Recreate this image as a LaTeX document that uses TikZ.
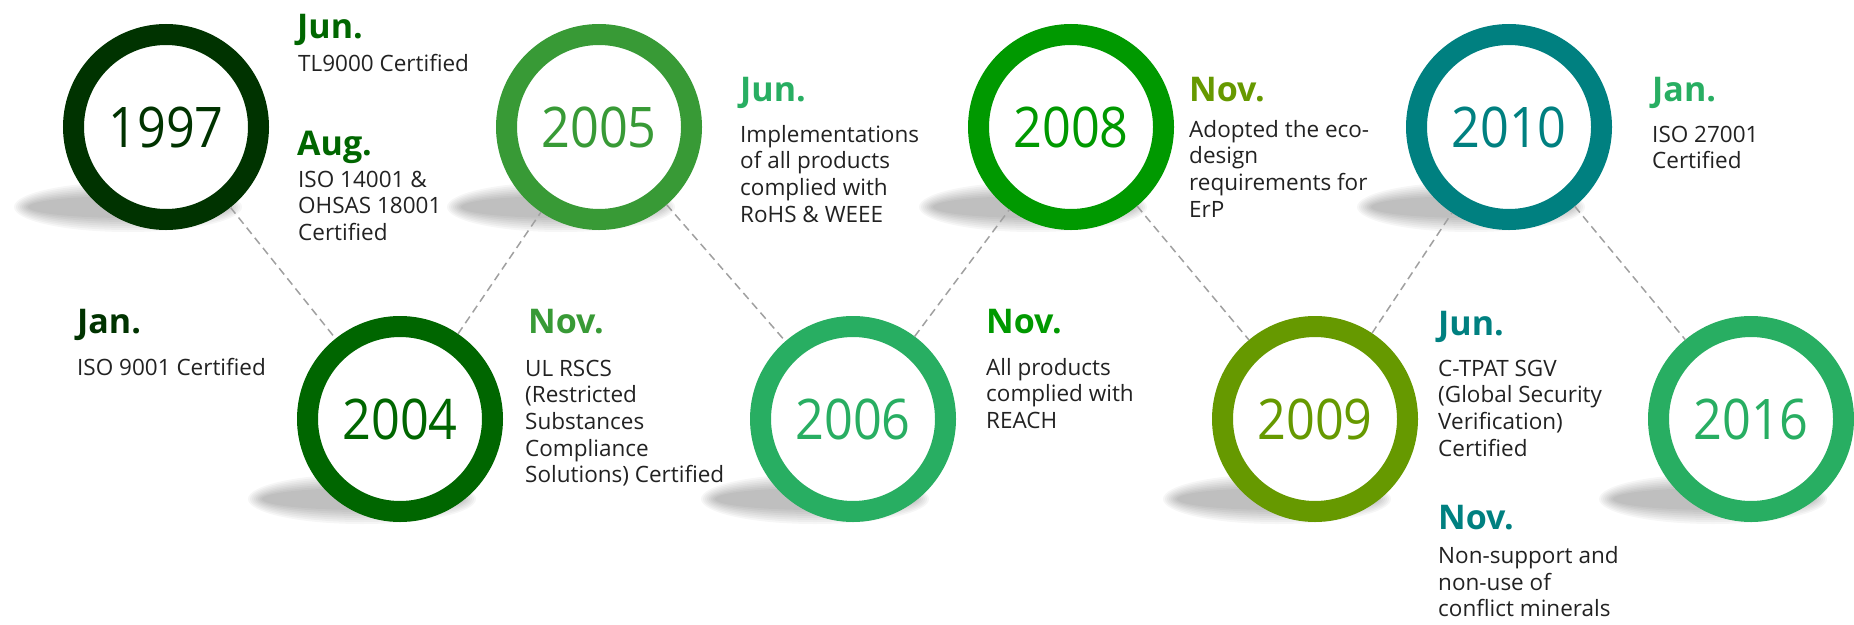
\documentclass[tikz,border=0pt]{standalone}
\usepackage{fontspec}
\setmainfont{Open Sans}
\newfontfamily\yearfont[FakeStretch=0.9]{Open Sans}
\usetikzlibrary{calc}

\definecolor{c97}{HTML}{003300}
\definecolor{c04}{HTML}{006600}
\definecolor{c05}{HTML}{389A36}
\definecolor{c06}{HTML}{28AE62}
\definecolor{c08}{HTML}{009900}
\definecolor{c09}{HTML}{669900}
\definecolor{c10}{HTML}{008080}
\definecolor{c16}{HTML}{28AE62}
\definecolor{bodytext}{HTML}{222222}
\definecolor{dashgray}{HTML}{A0A0A0}

\newcommand\stack[1]{\vtop{\baselineskip=26.7pt\lineskiplimit=-50pt\lineskip=0pt #1}}

\tikzset{
  ring/.style={circle, minimum size=185pt, inner sep=0pt, line width=21pt, draw=#1, fill=white, text=#1, font=\yearfont\fontsize{56}{60}\selectfont},
  link/.style={draw=dashgray, line width=1.5pt, dash pattern=on 8pt off 5pt},
  month/.style={anchor=base west, inner sep=0pt, text=#1, font=\bfseries\fontsize{34}{40}\selectfont},
  body/.style={anchor=base west, inner sep=0pt, text=bodytext, font=\fontsize{22.5}{26.7}\selectfont},
  blob/.style={fill=black, fill opacity=0.034, draw=none}
}

\begin{document}
\begin{tikzpicture}[x=1pt, y=-1pt]
\useasboundingbox (0,0) rectangle (1854,624);

% centres
\coordinate (p97) at (166,127);
\coordinate (p04) at (400,419);
\coordinate (p05) at (599,127);
\coordinate (p06) at (853,419);
\coordinate (p08) at (1071,127);
\coordinate (p09) at (1315,419);
\coordinate (p10) at (1509,127);
\coordinate (p16) at (1751,419);

% soft shadows
\foreach \p in {p97,p04,p05,p06,p08,p09,p10,p16}{
  \foreach \k in {0,...,7}{
    \path[blob] ($(\p)+(-38,80)$) ellipse [x radius={100pt+2*\k pt}, y radius={11pt+2*\k pt}];
  }
}

% rings
\node[ring=c97] (n97) at (p97) {1997};
\node[ring=c04] (n04) at (p04) {2004};
\node[ring=c05] (n05) at (p05) {2005};
\node[ring=c06] (n06) at (p06) {2006};
\node[ring=c08] (n08) at (p08) {2008};
\node[ring=c09] (n09) at (p09) {2009};
\node[ring=c10] (n10) at (p10) {2010};
\node[ring=c16] (n16) at (p16) {2016};

% connectors
\draw[link] (n97) -- (n04);
\draw[link] (n04) -- (n05);
\draw[link] (n05) -- (n06);
\draw[link] (n06) -- (n08);
\draw[link] (n08) -- (n09);
\draw[link] (n09) -- (n10);
\draw[link] (n10) -- (n16);

% texts
\node[month=c04] (mA1) at (297,38) {Jun.};
\node[body] (tA1) at (298,71) {TL9000 Certified};
\node[month=c04] (mA2) at (297,155) {Aug.};
\node[body] (tA2) at (298,187) {\stack{\hbox{ISO 14001 \&}\hbox{OHSAS 18001}\hbox{Certified}}};

\node[month=c97] (mB1) at (77,333) {Jan.};
\node[body] (tB1) at (77,375) {ISO 9001 Certified};

\node[month=c05] (mC1) at (528,333) {Nov.};
\node[body] (tC1) at (525,376) {\stack{\hbox{UL RSCS}\hbox{(Restricted}\hbox{Substances}\hbox{Compliance}\hbox{Solutions) Certified}}};

\node[month=c06] (mD1) at (740,101) {Jun.};
\node[body] (tD1) at (740,142) {\stack{\hbox{Implementations}\hbox{of all products}\hbox{complied with}\hbox{RoHS \& WEEE}}};

\node[month=c08] (mE1) at (986,333) {Nov.};
\node[body] (tE1) at (986,375) {\stack{\hbox{All products}\hbox{complied with}\hbox{REACH}}};

\node[month=c09] (mF1) at (1189,101) {Nov.};
\node[body] (tF1) at (1189,137) {\stack{\hbox{Adopted the eco-}\hbox{design}\hbox{requirements for}\hbox{ErP}}};

\node[month=c16] (mG1) at (1652,101) {Jan.};
\node[body] (tG1) at (1652,142) {\stack{\hbox{ISO 27001}\hbox{Certified}}};

\node[month=c10] (mH1) at (1438,335) {Jun.};
\node[body] (tH1) at (1438,376) {\stack{\hbox{C-TPAT SGV}\hbox{(Global Security}\hbox{Verification)}\hbox{Certified}}};
\node[month=c10] (mH2) at (1438,529) {Nov.};
\node[body] (tH2) at (1438,563.5) {\stack{\hbox{Non-support and}\hbox{non-use of}\hbox{conflict minerals}}};
\end{tikzpicture}
\end{document}
